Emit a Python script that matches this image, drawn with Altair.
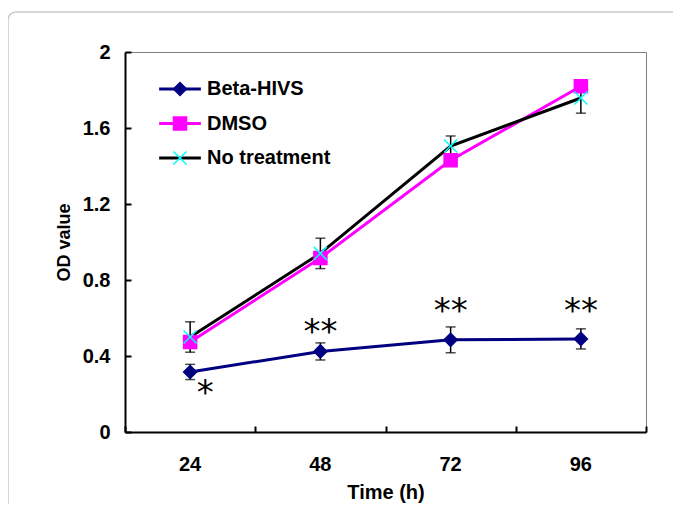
import altair as alt
import pandas as pd

# ---- data ----
times = ['24', '48', '72', '96']
series_names = ['Beta-HIVS', 'DMSO', 'No treatment']
beta_vals = [0.316, 0.424, 0.485, 0.49]
beta_err = [0.04, 0.045, 0.068, 0.053]
dmso_vals = [0.474, 0.916, 1.43, 1.82]
notr_vals = [0.5, 0.94, 1.505, 1.758]
notr_err = [0.08, 0.08, 0.053, 0.08]

line_colors = ['#000080', '#FF00FF', '#000000']
marker_fill = ['#000080', '#FF00FF', 'transparent']
marker_stroke = ['#000080', '#FF00FF', '#00FFFF']
marker_shapes = ['diamond', 'square', 'M-1,-1L1,1M-1,1L1,-1']

sig_times_single = ['24']
sig_pos_single = [0.20]
sig_times_double = ['48', '72', '96']
sig_pos_double = [0.52, 0.63, 0.63]

y_ticks = [0, 0.4, 0.8, 1.2, 1.6, 2]

FONT = 'Liberation Sans'
W, H = 521, 380
LBL = 20

rows = []
for s, vals, errs in [('Beta-HIVS', beta_vals, beta_err),
                      ('DMSO', dmso_vals, [None] * 4),
                      ('No treatment', notr_vals, notr_err)]:
    for t, v, e in zip(times, vals, errs):
        rows.append({'series': s, 'grp': s, 'time': t, 'value': v, 'err': e})
df = pd.DataFrame(rows)
err_df = df.dropna(subset=['err']).copy()
err_df['lo'] = err_df['value'] - err_df['err']
err_df['hi'] = err_df['value'] + err_df['err']

single_df = pd.DataFrame({'time': sig_times_single, 'pos': sig_pos_single, 'txt': ['*']})
double_df = pd.DataFrame({'time': sig_times_double, 'pos': sig_pos_double, 'txt': ['**'] * 3})

xscale = alt.Scale(type='band', domain=times, paddingInner=0, paddingOuter=0)
yscale = alt.Scale(domain=[0, 2], nice=False)

x_main = alt.X('time:O', scale=xscale, title='Time (h)',
               axis=alt.Axis(orient='bottom', ticks=False, labelAngle=0, labelPadding=22,
                             domainColor='black', domainWidth=2, titlePadding=8,
                             labelFont=FONT, labelFontSize=LBL, labelFontWeight='bold',
                             labelColor='black', titleFont=FONT, titleFontSize=20,
                             titleFontWeight='bold', titleColor='black'))
y_main = alt.Y('value:Q', scale=yscale, title='OD value',
               axis=alt.Axis(orient='left', values=y_ticks, format='.1~f', ticks=False,
                             labelPadding=15, domainColor='black', domainWidth=2,
                             titlePadding=9, labelFont=FONT, labelFontSize=LBL,
                             labelFontWeight='bold', labelColor='black', titleFont=FONT,
                             titleFontSize=18, titleFontWeight='bold', titleColor='black'))

x_tick = alt.X('time:O', scale=xscale, title=None,
               axis=alt.Axis(orient='top', offset=-H, labels=False, ticks=True, tickSize=6,
                             tickBand='extent', tickColor='black', tickWidth=2,
                             domain=False))
y_tick = alt.Y('value:Q', scale=yscale, title=None,
               axis=alt.Axis(orient='right', offset=-W, values=y_ticks, labels=False,
                             ticks=True, tickSize=6, tickColor='black', tickWidth=2,
                             domain=False))

frame = alt.Chart(pd.DataFrame({'a': [0]})).mark_rect(
    fill='transparent', stroke='#c8c8c8', strokeWidth=1.5, cornerRadius=8
).encode(x=alt.value(-117), x2=alt.value(W + 80), y=alt.value(-40), y2=alt.value(H + 120))

common_legend = dict(orient='none', legendX=45, legendY=27, title=None, labelFont=FONT,
                     labelFontSize=LBL, labelFontWeight='bold', labelColor='black',
                     labelOffset=17, rowPadding=14.5, padding=0, symbolOffset=0)

line_legend = alt.Legend(symbolType='M-3.2,0H3.2', symbolSize=170, symbolStrokeWidth=3,
                         **common_legend)
lines = alt.Chart(df).mark_line(strokeWidth=3).encode(
    x=x_main, y=y_main,
    color=alt.Color('series:N', sort=series_names, scale=alt.Scale(range=line_colors),
                    legend=line_legend),
    order=alt.Order('time:O'),
)

err_rule = alt.Chart(err_df).mark_rule(color='black', strokeWidth=1.5).encode(
    x=alt.X('time:O', scale=xscale, axis=None),
    y=alt.Y('lo:Q', scale=yscale, axis=None), y2='hi:Q')
err_lo = alt.Chart(err_df).mark_tick(color='black', thickness=1.5, size=10).encode(
    x=alt.X('time:O', scale=xscale, axis=None), y=alt.Y('lo:Q', scale=yscale, axis=None))
err_hi = alt.Chart(err_df).mark_tick(color='black', thickness=1.5, size=10).encode(
    x=alt.X('time:O', scale=xscale, axis=None), y=alt.Y('hi:Q', scale=yscale, axis=None))

mk_legend = alt.Legend(symbolSize=170, symbolStrokeWidth=1.5, labelOpacity=0, **common_legend)
points = alt.Chart(df).mark_point(filled=True, size=170, strokeWidth=1.5, opacity=1).encode(
    x=x_tick, y=y_tick,
    fill=alt.Fill('grp:N', scale=alt.Scale(domain=series_names, range=marker_fill), legend=mk_legend),
    stroke=alt.Stroke('grp:N', scale=alt.Scale(domain=series_names, range=marker_stroke), legend=mk_legend),
    shape=alt.Shape('grp:N', scale=alt.Scale(domain=series_names, range=marker_shapes), legend=mk_legend),
)

star1 = alt.Chart(single_df).mark_text(font='DejaVu Sans', fontSize=34, dx=15,
                                       baseline='middle', color='black').encode(
    x=alt.X('time:O', scale=xscale, axis=None), y=alt.Y('pos:Q', scale=yscale, axis=None),
    text='txt:N')
star2 = alt.Chart(double_df).mark_text(font='DejaVu Sans', fontSize=34,
                                       baseline='middle', color='black').encode(
    x=alt.X('time:O', scale=xscale, axis=None), y=alt.Y('pos:Q', scale=yscale, axis=None),
    text='txt:N')

chart = alt.layer(frame, lines, err_rule, err_lo, err_hi, points, star1, star2).resolve_axis(
    x='independent', y='independent'
).properties(
    width=W, height=H,
    autosize=alt.AutoSizeParams(type='none'),
    padding={'left': 117, 'top': 44, 'right': 27, 'bottom': 72},
    background='white',
).configure_view(stroke='#808080', strokeWidth=1).configure_axis(grid=False)

chart.save('out.html', embed_options={'renderer': 'svg', 'actions': False})
